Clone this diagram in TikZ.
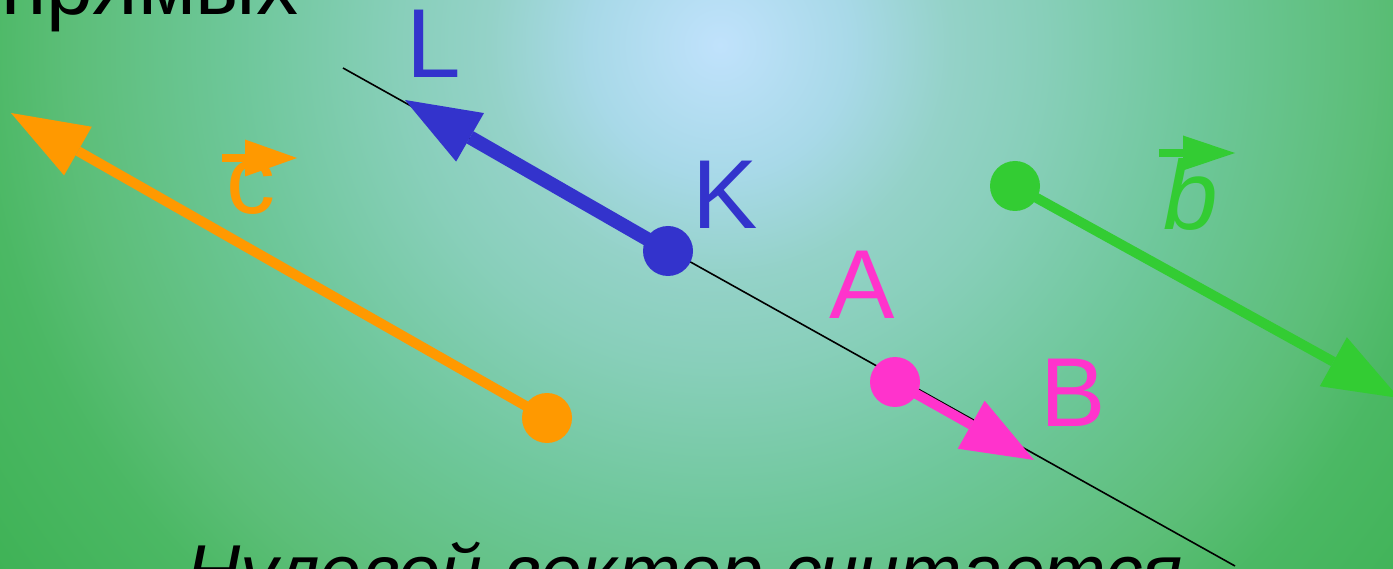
\documentclass[tikz,border=0pt]{standalone}
\usepackage{fontspec}
\setmainfont{Liberation Sans}
\usetikzlibrary{arrows.meta}
\definecolor{bvec}{RGB}{51,51,204}
\definecolor{pvec}{RGB}{255,51,204}
\definecolor{ovec}{RGB}{255,153,0}
\definecolor{gvec}{RGB}{51,204,51}
\definecolor{sh0}{RGB}{192,226,252}
\definecolor{sh1}{RGB}{168,217,232}
\definecolor{sh2}{RGB}{148,210,200}
\definecolor{sh3}{RGB}{136,207,186}
\definecolor{sh4}{RGB}{110,199,154}
\definecolor{sh5}{RGB}{92,190,120}
\definecolor{sh6}{RGB}{75,184,100}
\definecolor{sh7}{RGB}{58,176,80}
\pgfdeclareradialshading{bgshade}{\pgfpoint{0bp}{0bp}}{color(0bp)=(sh0); color(130bp)=(sh1); color(230bp)=(sh2); color(320bp)=(sh3); color(480bp)=(sh4); color(650bp)=(sh5); color(740bp)=(sh6); color(950bp)=(sh7)}
\begin{document}
\begin{tikzpicture}[x=1pt,y=-1pt,
  dot/.style={circle,fill=#1,minimum size=50pt,inner sep=0pt},
  lbl/.style={inner sep=0pt,anchor=base west,font=\fontsize{98}{100}\selectfont},
  big/.style={inner sep=0pt,anchor=base west,font=\fontsize{84}{90}\selectfont}]
\useasboundingbox (0,0) rectangle (1393,569);
\begin{scope}
\clip (0,0) rectangle (1393,569);
\node[inner sep=0pt] (bg) at (720,45) {\pgfuseshading{bgshade}};
% texts
\node[big] (t1) at (1,15) {прямых};
\node[big,font=\fontsize{75}{80}\selectfont\itshape] (t2) at (186,597) {Нулевой вектор считается};
% black line
\coordinate (l1) at (343,68);
\coordinate (l2) at (1235,566);
\draw[line width=1.6pt,black] (l1) -- (l2);
% dots
\node[dot=bvec] (K) at (668,251) {};
\node[dot=pvec] (A) at (895,382) {};
\node[dot=ovec] (C) at (547,418) {};
\node[dot=gvec] (G) at (1015,186) {};
\coordinate (Ltip) at (405,100);
\coordinate (Btip) at (1034,460);
\coordinate (Ctip) at (11,113);
\coordinate (Gtip) at (1399,398);
\draw[line width=14pt,bvec,-{Triangle[length=75pt,width=56pt,line width=0pt]}] (K.center) -- (Ltip);
\draw[line width=10pt,pvec,-{Triangle[length=72pt,width=55pt,line width=0pt]}] (A.center) -- (Btip);
\draw[line width=10pt,ovec,-{Triangle[length=77pt,width=56pt,line width=0pt]}] (C.center) -- (Ctip);
\draw[line width=10pt,gvec,-{Triangle[length=75pt,width=56pt,line width=0pt]}] (G.center) -- (Gtip);
% labels
\node[lbl,text=bvec] (Llab) at (406,78) {L};
\node[lbl,text=bvec] (Klab) at (692,229) {K};
\node[lbl,text=pvec] (Alab) at (829,319) {A};
\node[lbl,text=pvec] (Blab) at (1040,426) {B};
\node[lbl,text=ovec] (clab) at (226,214) {c};
\node[lbl,text=gvec,font=\fontsize{98}{100}\selectfont\itshape] (blab) at (1163,230) {b};
\coordinate (ca1) at (222,158);
\coordinate (ca2) at (297,158);
\coordinate (ba1) at (1159,153);
\coordinate (ba2) at (1235,153);
\draw[line width=8pt,ovec,-{Triangle[length=52pt,width=37pt,line width=0pt]}] (ca1) -- (ca2);
\draw[line width=8pt,gvec,-{Triangle[length=52pt,width=35pt,line width=0pt]}] (ba1) -- (ba2);
\end{scope}
\end{tikzpicture}
\end{document}
